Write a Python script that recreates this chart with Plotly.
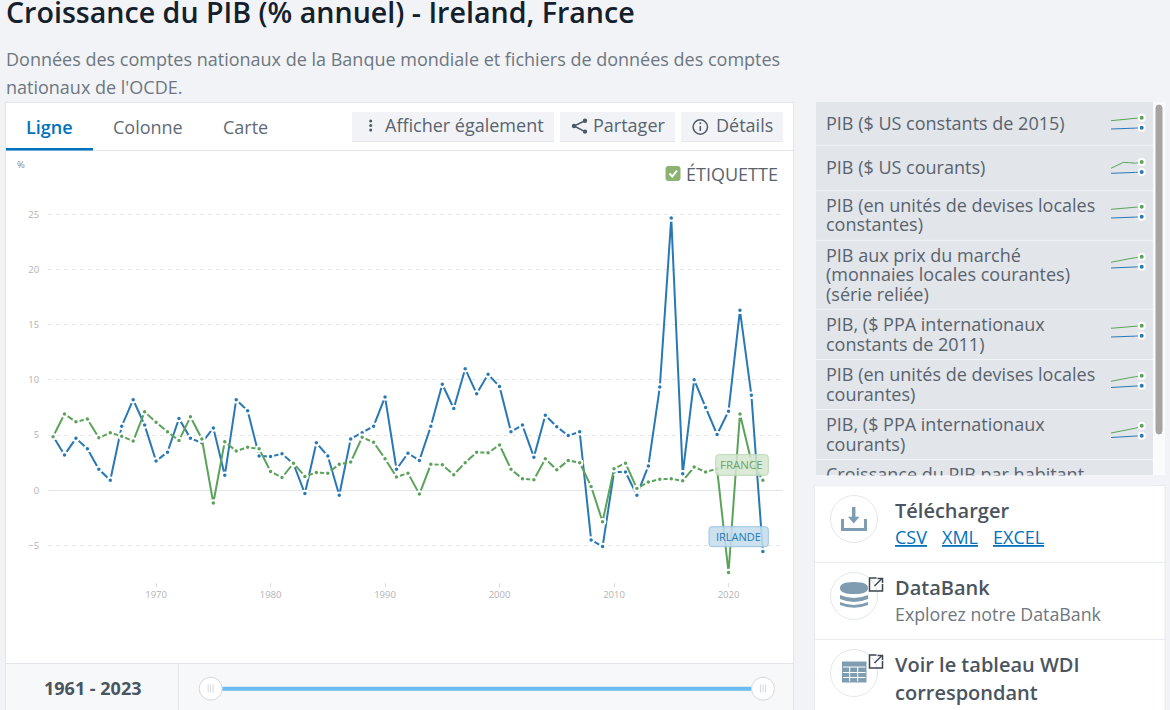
# Croissance du PIB - Ireland, France, with the page around the chart

import plotly.graph_objects as go

W = 1170
H = 710
FONT = "Open Sans"
PAGE_BG = "#f1f3f7"
TEXT = "#59636e"
BLUE = "#2878b5"
GREEN = "#5ba35a"
ICON = "#7f9cb1"
LINK = "#0071bc"

years = list(range(1961, 2024))
ireland = [4.9, 3.2, 4.7, 3.75, 1.9, 0.9, 5.8, 8.2, 5.9, 2.65,
           3.45, 6.5, 4.7, 4.3, 5.65, 1.35, 8.2, 7.2, 3.1, 3.05,
           3.3, 2.4, -0.3, 4.3, 3.1, -0.45, 4.65, 5.2, 5.8, 8.45,
           1.9, 3.35, 2.7, 5.8, 9.6, 7.4, 11.0, 8.75, 10.5, 9.4,
           5.3, 5.9, 3.0, 6.8, 5.75, 4.95, 5.3, -4.5, -5.1, 1.65,
           1.65, -0.45, 2.2, 9.35, 24.65, 1.5, 10.0, 7.5, 5.05, 7.15,
           16.3, 8.6, -5.55]
france = [4.85, 6.9, 6.2, 6.45, 4.75, 5.2, 4.9, 4.45, 7.1, 6.15,
          5.3, 4.5, 6.65, 4.65, -1.15, 4.4, 3.55, 3.9, 3.75, 1.7,
          1.15, 2.45, 1.25, 1.6, 1.55, 2.35, 2.55, 4.8, 4.35, 2.85,
          1.2, 1.55, -0.35, 2.35, 2.3, 1.4, 2.5, 3.45, 3.4, 4.1,
          1.9, 1.05, 0.95, 2.85, 1.85, 2.7, 2.5, 0.35, -2.85, 1.95,
          2.45, 0.15, 0.75, 1.0, 1.05, 0.85, 2.1, 1.65, 1.95, -7.45,
          6.9, 2.6, 0.9]
x_ticks = [1970, 1980, 1990, 2000, 2010, 2020]
y_ticks = [-5, 0, 5, 10, 15, 20, 25]

# small trend lines in the side list, one pair per row
spark_steps = [0, 1, 2, 3, 4, 5]
spark_france = [
    [11, 11.7, 12.4, 13, 13.5, 14],
    [7.7, 10.5, 13.6, 13.3, 12.8, 14],
    [11.4, 12, 12.6, 13, 13.5, 14],
    [8.4, 9.8, 11, 12, 13, 14],
    [11.4, 12, 12.6, 13, 13.5, 14],
    [8.4, 9.8, 11, 12, 13, 14],
    [6.7, 8, 9.2, 10.5, 11.5, 14],
]
spark_ireland = [
    [2.7, 2.8, 3, 3.2, 3.6, 4],
    [2.7, 2.8, 3, 3.2, 3.6, 4],
    [2.7, 2.8, 3, 3.2, 3.6, 4],
    [2.7, 2.9, 3.1, 3.3, 3.7, 4],
    [2.7, 2.8, 3, 3.2, 3.6, 4],
    [2.2, 2.5, 2.9, 3.2, 3.6, 4],
    [2.2, 2.5, 2.9, 3.2, 3.6, 4],
]
spark_bottoms = [131.7, 176, 220.7, 270.7, 339.7, 389.7, 439.7]

list_rows = [
    ("PIB ($ US constants de 2015)", 123.5),
    ("PIB ($ US courants)", 167.5),
    ("PIB (en unités de devises locales", 205.5),
    ("constantes)", 224.5),
    ("PIB aux prix du marché", 255.5),
    ("(monnaies locales courantes)", 275),
    ("(série reliée)", 294.5),
    ("PIB, ($ PPA internationaux", 325),
    ("constants de 2011)", 344.5),
    ("PIB (en unités de devises locales", 375),
    ("courantes)", 394.5),
    ("PIB, ($ PPA internationaux", 425),
    ("courants)", 444.5),
    ("Croissance du PIB par habitant", 474.5),
]
list_separators = [145.3, 190.7, 240.3, 309.3, 359.5, 409.5, 459.5]

shapes = []
annotations = []


def rect(x0, y0, x1, y1, fill, line=None, layer="below"):
    shapes.append(dict(type="rect", xref="x", yref="y", x0=x0, y0=y0, x1=x1, y1=y1,
                       fillcolor=fill, layer=layer,
                       line=dict(color=line or "rgba(0,0,0,0)", width=1 if line else 0)))


def hline(x0, x1, y, color, width=1):
    shapes.append(dict(type="line", xref="x", yref="y", x0=x0, y0=y, x1=x1, y1=y,
                       layer="below", line=dict(color=color, width=width)))


def circle(cx, cy, r, fill, line=None, width=1):
    shapes.append(dict(type="circle", xref="x", yref="y", x0=cx - r, y0=cy - r, x1=cx + r, y1=cy + r,
                       fillcolor=fill, layer="below",
                       line=dict(color=line or "rgba(0,0,0,0)", width=width if line else 0)))


def path(d, fill="rgba(0,0,0,0)", line=None, width=1, layer="below"):
    shapes.append(dict(type="path", xref="x", yref="y", path=d, fillcolor=fill, layer=layer,
                       line=dict(color=line or "rgba(0,0,0,0)", width=width if line else 0)))


def rounded(x0, y0, x1, y1, r, fill, line, layer="above"):
    d = (f"M{x0 + r},{y0} L{x1 - r},{y0} Q{x1},{y0} {x1},{y0 + r} L{x1},{y1 - r} Q{x1},{y1} {x1 - r},{y1} "
         f"L{x0 + r},{y1} Q{x0},{y1} {x0},{y1 - r} L{x0},{y0 + r} Q{x0},{y0} {x0 + r},{y0} Z")
    path(d, fill, line, 1, layer)


def text(x, y, s, size=18, color=TEXT, anchor="left", weight=400):
    # annotations sit about a pixel right and low of the given point
    annotations.append(dict(xref="x", yref="y", x=x - 1, y=y - 0.7, text=s, showarrow=False,
                            xanchor=anchor, yanchor="middle", borderpad=0,
                            font=dict(family=FONT, size=size, color=color, weight=weight)))


def external_link(x0, y0):
    c = "#3a4652"
    path(f"M{x0 + 7},{y0} L{x0},{y0} L{x0},{y0 + 13} L{x0 + 13},{y0 + 13} L{x0 + 13},{y0 + 6}",
         line=c, width=1.5)
    path(f"M{x0 + 5},{y0 + 8} L{x0 + 12},{y0 + 1}", line=c, width=1.5)
    path(f"M{x0 + 8},{y0 + 0.5} L{x0 + 13},{y0 + 0.5} L{x0 + 13},{y0 + 5}", line=c, width=1.5)


# page blocks
rect(5.5, 102.5, 793.5, 712, "#ffffff", "#e3e7ec")
rect(6, 663, 793, 710, "#f7f8fa")
hline(6, 793, 663.5, "#e3e7ec")
hline(178.5, 178.5, 663, "#e3e7ec")
shapes[-1].update(x0=178.5, x1=178.5, y0=663, y1=710)
hline(6, 793, 150.5, "#e3e7ec")
rect(6, 148, 93, 150.5, LINK)

text(6, 12, "Croissance du PIB (% annuel) - Ireland, France", 28.6, "#14202b", weight=600)
text(6, 60, "Données des comptes nationaux de la Banque mondiale et fichiers de données des comptes", 18, "#6e7780")
text(6, 88, "nationaux de l'OCDE.", 18, "#6e7780")

text(26, 127.5, "Ligne", 18, LINK, weight=600)
text(113, 127.5, "Colonne", 18, "#5f6b76")
text(223, 127.5, "Carte", 18, "#5f6b76")

# toolbar
for x0, x1 in [(352, 554), (560, 675), (681, 783)]:
    rect(x0, 112, x1, 141.5, PAGE_BG)
    hline(x0, x1, 141.5, "#e4e6ea")
for y in [121, 125.5, 130]:
    circle(370.7, y, 1.5, "#4d5966")
text(385, 125.5, "Afficher également")
path("M585,120.7 L574,126 L585,131.6", line="#4d5966", width=1.5)
for cx, cy in [(585, 120.7), (574, 126), (585, 131.6)]:
    circle(cx, cy, 2.2, "#4d5966")
text(593, 125.5, "Partager")
circle(700.3, 127, 7.2, "rgba(0,0,0,0)", "#4d5966", 1.5)
path("M700.3,126 L700.3,131", line="#4d5966", width=1.5)
circle(700.3, 123.3, 1, "#4d5966")
text(716, 125.5, "Détails")

# label checkbox
rounded(666, 166.5, 680, 180.5, 2, "#8cb272", "#8cb272", "below")
path("M669.5,173.5 L672.3,176.5 L677,170.5", line="#ffffff", width=2)
text(686, 174.5, "ÉTIQUETTE")
text(17, 165, "%", 9.5, "#8c8c8c")

# end labels of the lines
rounded(715.7, 454.7, 768.3, 475.3, 3, "rgba(212,230,208,0.85)", "#bcd8b5")
text(742.5, 465.3, "FRANCE", 11.5, "#6ea36c", "center")
rounded(709, 526.7, 768.3, 546.7, 3, "rgba(196,221,238,0.88)", "#9cc4e0")
text(739.5, 537, "IRLANDE", 11, BLUE, "center")

# year slider
text(93.5, 688.5, "1961 - 2023", 18, "#4a5560", "center", 700)
rect(222, 686.7, 752, 690.7, "#6bbcf2")
for cx in [210.7, 763]:
    circle(cx, 688.7, 11.5, "#ffffff", "#d5d8dc")
    for dx in [-2.5, 0, 2.5]:
        shapes.append(dict(type="line", xref="x", yref="y", x0=cx + dx, x1=cx + dx, y0=684.5, y1=692.5,
                           layer="below", line=dict(color="#d5d8dc", width=1)))

# side list
rect(816, 102, 1153, 475, "#e2e5ea")
rect(1153, 102, 1165, 475, "#fafbfc")
rounded(1156, 105, 1162, 434, 3, "#a5a5a5", "#a5a5a5", "below")
for y in list_separators:
    hline(816, 1153, y, "#f1f3f7")
for label, y in list_rows:
    text(826, y, label)
# cuts the last row of the list, which scrolls out of its box
annotations.append(dict(xref="x", yref="y", x=816, y=475, text=" ", showarrow=False, xanchor="left",
                        yanchor="top", width=337, height=10, borderpad=0, bgcolor=PAGE_BG,
                        font=dict(size=1)))

# links card
rect(814.5, 485.5, 1165, 712, "#ffffff", "#e7eaee")
hline(815, 1165, 562.3, "#e7eaee")
hline(815, 1165, 639.3, "#e7eaee")
for cy in [519, 596, 673]:
    circle(854, cy, 23.5, "#ffffff", "#e3e8ec")

path("M842.5,519 L842.5,529.5 L865.5,529.5 L865.5,519", line=ICON, width=3)
path("M853.7,507 L853.7,518", line=ICON, width=3.5)
path("M848,516.7 L859.5,516.7 L853.7,523.5 Z", fill=ICON)
text(895, 511, "Télécharger", 20, "#4a5560", weight=600)
text(895, 537.5, "<u>CSV</u>", 18, LINK)
text(942, 537.5, "<u>XML</u>", 18, LINK)
text(993, 537.5, "<u>EXCEL</u>", 18, LINK)

path("M840,588 Q840,582 854,582 Q868,582 868,588 Q868,594 854,594 Q840,594 840,588 Z", fill=ICON)
path("M840,595 Q854,601 868,595 L868,599 Q854,605 840,599 Z", fill=ICON)
path("M840,602 Q854,608 868,602 L868,605 Q854,610.5 840,605 Z", fill=ICON)
external_link(869.5, 578)
text(895, 588, "DataBank", 20, "#4a5560", weight=600)
text(895, 615, "Explorez notre DataBank", 17.8, "#6e7780")

rect(842, 661.5, 866.5, 682.5, ICON)
for y in [667, 672.5, 677.5]:
    hline(843, 865.5, y, "#ffffff")
for x in [849.7, 857.7]:
    shapes.append(dict(type="line", xref="x", yref="y", x0=x, x1=x, y0=667, y1=681.5,
                       layer="below", line=dict(color="#ffffff", width=1)))
rect(843.3, 668, 848.9, 671.8, ICON)
external_link(869.5, 655)
text(895, 665, "Voir le tableau WDI", 20, "#4a5560", weight=600)
text(895, 693, "correspondant", 20, "#4a5560", weight=600)

fig = go.Figure()

# page axes: only here to place the blocks and texts in pixels
fig.add_trace(go.Scatter(x=[None], y=[None], xaxis="x", yaxis="y", hoverinfo="skip"))

fig.add_trace(go.Scatter(x=years, y=ireland, xaxis="x2", yaxis="y2", mode="lines+markers", name="Irlande",
                         line=dict(color=BLUE, width=2),
                         marker=dict(size=5.5, color=BLUE, line=dict(color="#ffffff", width=2))))
fig.add_trace(go.Scatter(x=years, y=france, xaxis="x2", yaxis="y2", mode="lines+markers", name="France",
                         line=dict(color=GREEN, width=2),
                         marker=dict(size=5.5, color=GREEN, line=dict(color="#ffffff", width=2))))

layout = dict(
    width=W,
    height=H,
    autosize=False,
    margin=dict(l=0, r=0, t=0, b=0),
    paper_bgcolor=PAGE_BG,
    plot_bgcolor="rgba(0,0,0,0)",
    showlegend=False,
    hovermode=False,
    font=dict(family=FONT),
    xaxis=dict(range=[0, W], domain=[0, 1], visible=False, fixedrange=True),
    yaxis=dict(range=[H, 0], domain=[0, 1], visible=False, fixedrange=True),
    xaxis2=dict(domain=[48 / W, 783 / W], range=[1960.56, 2024.76], anchor="y2", tickvals=x_ticks,
                ticks="outside", ticklen=4, tickcolor="#dddddd", showgrid=False, zeroline=False,
                showline=False, tickfont=dict(size=9.5, color="#b3b3b3", family=FONT), fixedrange=True),
    yaxis2=dict(domain=[1 - 582 / H, 1 - 200 / H], range=[-8.31, 26.29], anchor="x2", tickvals=y_ticks,
                ticks="outside", ticklen=6, tickcolor="rgba(0,0,0,0)", showgrid=True, gridcolor="#e6e6e6",
                griddash="4px,4px", gridwidth=1, zeroline=True, zerolinecolor="#e1e5ea", zerolinewidth=1,
                showline=False, tickfont=dict(size=9.5, color="#b3b3b3", family=FONT), fixedrange=True),
    shapes=shapes,
    annotations=annotations,
)

for i in range(len(spark_bottoms)):
    n = i + 3
    layout[f"xaxis{n}"] = dict(domain=[1111 / W, 1141.7 / W], range=[0, 5], anchor=f"y{n}",
                               visible=False, fixedrange=True)
    layout[f"yaxis{n}"] = dict(domain=[1 - spark_bottoms[i] / H, 1 - (spark_bottoms[i] - 20) / H], range=[0, 20],
                               anchor=f"x{n}", visible=False, fixedrange=True)
    for values, color in [(spark_france[i], GREEN), (spark_ireland[i], BLUE)]:
        fig.add_trace(go.Scatter(x=spark_steps, y=values, xaxis=f"x{n}", yaxis=f"y{n}", mode="lines",
                                 line=dict(color=color, width=1), hoverinfo="skip"))
        fig.add_trace(go.Scatter(x=spark_steps[-1:], y=values[-1:], xaxis=f"x{n}", yaxis=f"y{n}", mode="markers",
                                 cliponaxis=False, hoverinfo="skip",
                                 marker=dict(size=6, color=color, line=dict(color="#ffffff", width=2))))

fig.update_layout(**layout)

fig.write_html("out.html", config=dict(displayModeBar=False),
               post_script="document.body.style.margin='0';document.body.style.overflow='hidden';")
